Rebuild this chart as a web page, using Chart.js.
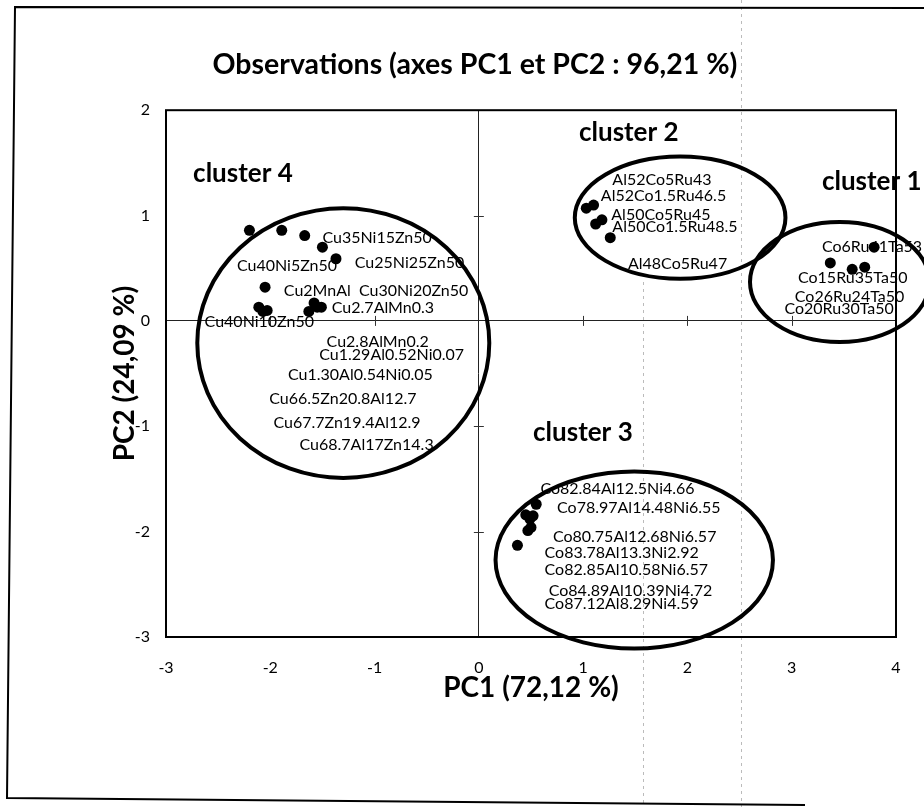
<!DOCTYPE html>
<html>
<head>
<meta charset="utf-8">
<title>Observations</title>
<script src="https://cdn.jsdelivr.net/npm/chart.js@4.4.1/dist/chart.umd.min.js"></script>
<style>
    html, body { margin: 0; padding: 0; background: #fff; }
    #wrap { position: relative; width: 924px; height: 807px; }
</style>
</head>
<body>
<div id="wrap"><canvas id="myChart" width="924" height="807"></canvas></div>
<script>
// PC1 / PC2 coordinates of each observation, by cluster
const cluster1Names = ['Co6Ru41Ta53', 'Co15Ru35Ta50', 'Co26Ru24Ta50', 'Co20Ru30Ta50'];
const cluster1PC1 = [3.79, 3.37, 3.58, 3.70];
const cluster1PC2 = [0.70, 0.55, 0.49, 0.51];

const cluster2Names = ['Al52Co5Ru43', 'Al52Co1.5Ru46.5', 'Al50Co5Ru45', 'Al50Co1.5Ru48.5', 'Al48Co5Ru47'];
const cluster2PC1 = [1.10, 1.03, 1.18, 1.12, 1.26];
const cluster2PC2 = [1.10, 1.07, 0.96, 0.92, 0.79];

const cluster3Names = ['Co82.84Al12.5Ni4.66', 'Co78.97Al14.48Ni6.55', 'Co80.75Al12.68Ni6.57', 'Co83.78Al13.3Ni2.92',
    'Co82.85Al10.58Ni6.57', 'Co84.89Al10.39Ni4.72', 'Co87.12Al8.29Ni4.59'];
const cluster3PC1 = [0.55, 0.45, 0.52, 0.49, 0.50, 0.47, 0.37];
const cluster3PC2 = [-1.74, -1.84, -1.85, -1.88, -1.96, -1.99, -2.13];

const cluster4Names = ['Cu35Ni15Zn50', 'Cu25Ni25Zn50', 'Cu40Ni5Zn50', 'Cu2MnAl', 'Cu30Ni20Zn50', 'Cu2.7AlMn0.3',
    'Cu40Ni10Zn50', 'Cu2.8AlMn0.2', 'Cu1.29Al0.52Ni0.07', 'Cu1.30Al0.54Ni0.05', 'Cu66.5Zn20.8Al12.7',
    'Cu67.7Zn19.4Al12.9', 'Cu68.7Al17Zn14.3'];
const cluster4PC1 = [-1.67, -1.50, -2.20, -2.05, -1.37, -1.51, -2.11, -1.58, -1.55, -1.63, -2.07, -2.03, -1.89];
const cluster4PC2 = [0.81, 0.70, 0.86, 0.32, 0.59, 0.13, 0.13, 0.17, 0.13, 0.09, 0.09, 0.10, 0.86];

const xTicks = [-3, -2, -1, 0, 1, 2, 3, 4];
const yTicks = [-3, -2, -1, 0, 1, 2];

// where the names are written (left edge, middle), in axis units
const cluster1LabelPos = [[3.29, 0.70], [3.06, 0.41], [3.03, 0.23], [2.93, 0.11]];
const cluster2LabelPos = [[1.28, 1.34], [1.17, 1.19], [1.27, 1.01], [1.28, 0.89], [1.43, 0.54]];
const cluster3LabelPos = [[0.59, -1.59], [0.75, -1.77], [0.71, -2.05], [0.63, -2.20], [0.63, -2.36], [0.67, -2.56], [0.63, -2.69]];
const cluster4LabelPos = [[-1.50, 0.79], [-1.19, 0.55], [-2.32, 0.52], [-1.87, 0.29], [-1.15, 0.29], [-1.41, 0.12],
    [-2.63, -0.01], [-1.46, -0.20], [-1.53, -0.32], [-1.83, -0.51], [-2.01, -0.74], [-1.97, -0.97], [-1.72, -1.18]];

// cluster circles: centre, radii, tilt (deg) and title position
const groups = [
    { title: 'cluster 1', names: cluster1Names, labels: cluster1LabelPos, cx: 3.46, cy: 0.37, rx: 0.86, ry: 0.57, rot: 0, tx: 3.29, ty: 1.32 },
    { title: 'cluster 2', names: cluster2Names, labels: cluster2LabelPos, cx: 1.93, cy: 0.98, rx: 1.01, ry: 0.58, rot: 0, tx: 0.96, ty: 1.79 },
    { title: 'cluster 3', names: cluster3Names, labels: cluster3LabelPos, cx: 1.49, cy: -2.27, rx: 1.33, ry: 0.84, rot: 0, tx: 0.52, ty: -1.06 },
    { title: 'cluster 4', names: cluster4Names, labels: cluster4LabelPos, cx: -1.30, cy: -0.21, rx: 1.40, ry: 1.28, rot: 0, tx: -2.74, ty: 1.40 }
];

function toPoints(xs, ys){
    return xs.map((x, i) => ({ x: x, y: ys[i] }));
}

const fontName = 'Lato, "Open Sans", sans-serif';

const decorations = {
    id: 'decorations',
    beforeDraw(chart){
        const ctx = chart.ctx;
        ctx.save();
        // fold marks of the printed page
        ctx.strokeStyle = 'rgba(120,120,120,0.5)';
        ctx.lineWidth = 1;
        ctx.setLineDash([3, 4]);
        ctx.beginPath();
        ctx.moveTo(643.5, 282); ctx.lineTo(643.5, 807);
        ctx.moveTo(741.5, 0); ctx.lineTo(741.5, 807);
        ctx.stroke();
        ctx.setLineDash([]);
        // page frame
        ctx.strokeStyle = '#000';
        ctx.lineWidth = 2;
        ctx.beginPath();
        ctx.moveTo(924, 8); ctx.lineTo(15, 7); ctx.lineTo(7, 798); ctx.lineTo(805, 805);
        ctx.stroke();
        ctx.restore();
    },
    afterDatasetsDraw(chart){
        const ctx = chart.ctx;
        const xs = chart.scales.x;
        const ys = chart.scales.y;
        const area = chart.chartArea;
        const x0 = xs.getPixelForValue(0);
        const y0 = ys.getPixelForValue(0);
        ctx.save();

        // small cross ticks along the axes through the origin
        ctx.strokeStyle = '#333';
        ctx.lineWidth = 1;
        ctx.beginPath();
        xTicks.forEach(v => {
            if (v === 0) return;
            const px = Math.round(xs.getPixelForValue(v)) + 0.5;
            ctx.moveTo(px, y0 - 5); ctx.lineTo(px, y0 + 5);
        });
        yTicks.forEach(v => {
            if (v === 0) return;
            const py = Math.round(ys.getPixelForValue(v)) + 0.5;
            ctx.moveTo(x0 - 5, py); ctx.lineTo(x0 + 5, py);
        });
        ctx.stroke();

        // plot frame
        ctx.lineWidth = 2;
        ctx.strokeStyle = '#000';
        ctx.strokeRect(area.left, area.top, area.right - area.left, area.bottom - area.top);

        // observation names
        ctx.fillStyle = '#000';
        ctx.textBaseline = 'middle';
        ctx.textAlign = 'left';
        ctx.font = '16px ' + fontName;
        groups.forEach(g => {
            g.names.forEach((name, i) => {
                const p = g.labels[i];
                ctx.fillText(name, xs.getPixelForValue(p[0]), ys.getPixelForValue(p[1]));
            });
        });

        // cluster circles and titles
        ctx.lineWidth = 4;
        ctx.font = 'bold 26px ' + fontName;
        groups.forEach(g => {
            const cx = xs.getPixelForValue(g.cx);
            const cy = ys.getPixelForValue(g.cy);
            const rx = Math.abs(xs.getPixelForValue(g.cx + g.rx) - cx);
            const ry = Math.abs(ys.getPixelForValue(g.cy + g.ry) - cy);
            ctx.beginPath();
            ctx.ellipse(cx, cy, rx, ry, g.rot * Math.PI / 180, 0, Math.PI * 2);
            ctx.stroke();
            ctx.fillText(g.title, xs.getPixelForValue(g.tx), ys.getPixelForValue(g.ty));
        });
        ctx.restore();
    }
};

function getChart(){
    const ctx = document.getElementById('myChart');

    new Chart(ctx, {
        type: 'scatter',
        data: {
            datasets: [
                { label: 'cluster 1', data: toPoints(cluster1PC1, cluster1PC2) },
                { label: 'cluster 2', data: toPoints(cluster2PC1, cluster2PC2) },
                { label: 'cluster 3', data: toPoints(cluster3PC1, cluster3PC2) },
                { label: 'cluster 4', data: toPoints(cluster4PC1, cluster4PC2) }
            ].map(d => Object.assign(d, {
                backgroundColor: '#000',
                borderColor: '#000',
                pointRadius: 5.5,
                pointBorderWidth: 0
            }))
        },
        options: {
            responsive: false,
            animation: false,
            layout: { padding: { left: 54, right: 28, top: 0, bottom: 0 } },
            plugins: {
                legend: { display: false },
                tooltip: { enabled: false },
                title: {
                    display: true,
                    text: 'Observations (axes PC1 et PC2 : 96,21 %)',
                    color: '#000',
                    font: { family: fontName, size: 28.5, weight: 'bold' },
                    padding: { top: 48, bottom: 28 }
                }
            },
            scales: {
                x: {
                    type: 'linear',
                    min: -3,
                    max: 4,
                    afterBuildTicks: (scale) => { scale.ticks = xTicks.map(v => ({ value: v })); },
                    afterFit: (scale) => { scale.height = 170; },
                    border: { display: false },
                    grid: {
                        drawTicks: false,
                        color: (c) => c.tick && c.tick.value === 0 ? '#222' : 'transparent',
                        lineWidth: 1
                    },
                    ticks: { color: '#000', padding: 21, font: { family: fontName, size: 16 } },
                    title: {
                        display: true,
                        text: 'PC1 (72,12 %)',
                        color: '#000',
                        font: { family: fontName, size: 28, weight: 'bold' },
                        padding: { top: 0, bottom: 102 }
                    }
                },
                y: {
                    type: 'linear',
                    min: -3,
                    max: 2,
                    afterBuildTicks: (scale) => { scale.ticks = yTicks.map(v => ({ value: v })); },
                    afterFit: (scale) => { scale.width = 112; },
                    border: { display: false },
                    grid: {
                        drawTicks: false,
                        color: (c) => c.tick && c.tick.value === 0 ? '#222' : 'transparent',
                        lineWidth: 1
                    },
                    ticks: { color: '#000', padding: 16, font: { family: fontName, size: 16 } },
                    title: {
                        display: true,
                        text: 'PC2 (24,09 %)',
                        color: '#000',
                        font: { family: fontName, size: 28, weight: 'bold' },
                        padding: { top: 54, bottom: 0 }
                    }
                }
            }
        },
        plugins: [decorations]
    });
}

document.addEventListener('DOMContentLoaded', (event) => {
    getChart();
});
</script>
</body>
</html>
